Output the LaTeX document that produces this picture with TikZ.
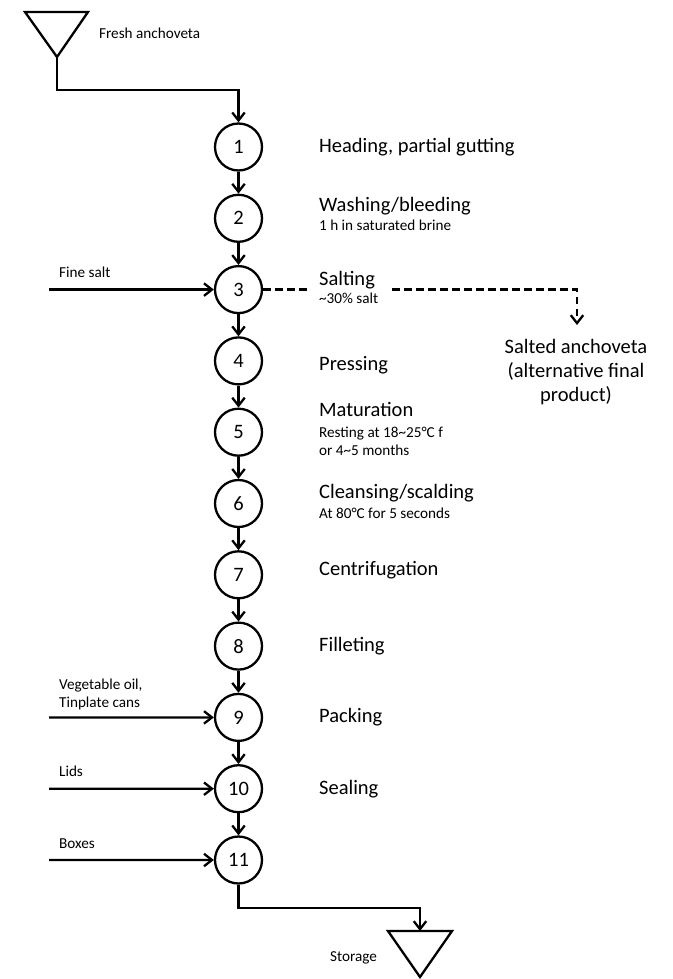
\documentclass[tikz,border=0pt]{standalone}
\usepackage{fontspec}
\setmainfont{Carlito}
\usetikzlibrary{arrows.meta}
\begin{document}
\begin{tikzpicture}[x=1pt,y=-1pt,
  line width=2.3pt,
  stepc/.style={circle,draw,line width=2.3pt,minimum size=47pt,inner sep=0pt,font=\fontsize{20.5}{24}\selectfont},
  big/.style={anchor=base west,inner sep=0pt,font=\fontsize{20.5}{24}\selectfont},
  bigc/.style={anchor=base,inner sep=0pt,font=\fontsize{20.5}{24}\selectfont},
  small/.style={anchor=base west,inner sep=0pt,font=\fontsize{15.2}{18}\selectfont},
  arr/.style={-{Straight Barb[length=8pt,width=12.5pt]},line width=2.3pt},
  dsh/.style={line width=2.3pt,dash pattern=on 7.5pt off 4.5pt},
  ]
\useasboundingbox (0,0) rectangle (672,979);

% source and sink triangles
\draw[line join=miter] (25,12) -- (88,12) -- (57,57) -- cycle;
\coordinate (src) at (57,57);
\coordinate (bendT) at (57,90);
\node[small] (fresh) at (98,39) {Fresh anchoveta};

\draw[line join=miter] (388,931) -- (452,931) -- (420,977) -- cycle;
\coordinate (sink) at (420,931);
\coordinate (bendB) at (420,908);
\node[small] (storage) at (329,961.7) {Storage};

% process steps
\foreach \i in {1,...,11}
  \node[stepc] (c\i) at (238.5,{147+(\i-1)*71.3}) {\i};

\draw[arr] (src) -- (bendT) -| (c1);
\foreach \i [evaluate=\i as \j using int(\i+1)] in {1,...,10}
  \draw[arr] (c\i) -- (c\j);
\draw[arr] (c11) |- (bendB) -- (sink);

% step labels
\node[big] (l1) at (318,152) {Heading, partial gutting};
\node[big] (l2) at (318,211) {Washing/bleeding};
\node[small] (l2b) at (318,230) {1 h in saturated brine};
\node[big] (l3) at (318,285) {Salting};
\node[small] (l3b) at (318,303) {\textasciitilde30\% salt};
\node[big] (l4) at (318,370) {Pressing};
\node[big] (l5) at (318,416) {Maturation};
\node[small] (l5b) at (318,437) {Resting at 18\textasciitilde25°C f};
\node[small] (l5c) at (318,455) {or 4\textasciitilde5 months};
\node[big] (l6) at (318,498) {Cleansing/scalding};
\node[small] (l6b) at (318,518) {At 80°C for 5 seconds};
\node[big] (l7) at (318,575.5) {Centrifugation};
\node[big] (l8) at (318,651.5) {Filleting};
\node[big] (l9) at (318,722) {Packing};
\node[big] (l10) at (318,794) {Sealing};

% alternative product
\coordinate (gapL) at (307,289.6);
\coordinate (gapR) at (392,289.6);
\coordinate (altcorner) at (577,289.6);
\coordinate (altend) at (577,325);
\draw[dsh] (c3) -- (gapL);
\draw[dsh,-{Straight Barb[length=8pt,width=12.5pt]}] (gapR) -- (altcorner) -- (altend);
\node[bigc] (alt1) at (576,353) {Salted anchoveta};
\node[bigc] (alt2) at (576,377) {(alternative final};
\node[bigc] (alt3) at (576,401) {product)};

% inputs
\coordinate (in3) at (49,289.6);
\node[small] (fs) at (58,277) {Fine salt};
\draw[arr] (in3) -- (c3);

\coordinate (in9) at (49,717.4);
\node[small] (vo) at (58,689.5) {Vegetable oil,};
\node[small] (tc) at (58,707) {Tinplate cans};
\draw[arr] (in9) -- (c9);

\coordinate (in10) at (49,788.7);
\node[small] (lids) at (58,776) {Lids};
\draw[arr] (in10) -- (c10);

\coordinate (in11) at (49,860);
\node[small] (boxes) at (58,848) {Boxes};
\draw[arr] (in11) -- (c11);
\end{tikzpicture}
\end{document}
